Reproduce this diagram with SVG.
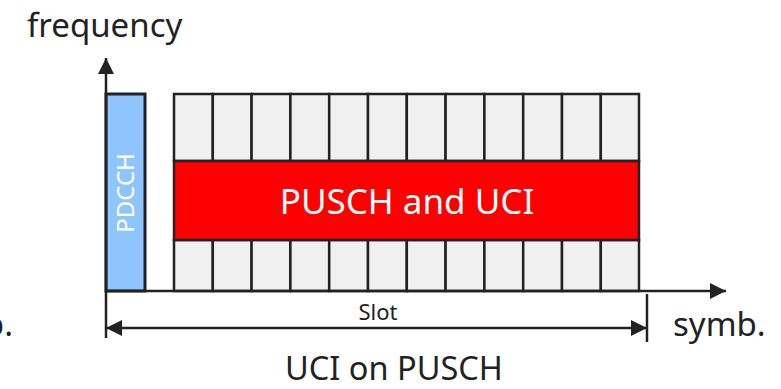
<svg xmlns="http://www.w3.org/2000/svg" width="781" height="389" viewBox="0 0 781 389">
  <style>
    .lbl { font-family: "Noto Sans", "Open Sans", sans-serif; fill: #222; }
    .cell { fill: #f0f0f0; stroke: #222; stroke-width: 2.5; }
    .ln { stroke: #222; stroke-width: 2.5; fill: none; }
  </style>
  <defs>
    <marker id="arr" viewBox="0 0 10 10" refX="10" refY="5" markerWidth="16" markerHeight="16" markerUnits="userSpaceOnUse" orient="auto-start-reverse">
      <path d="M0,0 L10,5 L0,10 z" fill="#222"/>
    </marker>
  </defs>

  <rect width="781" height="389" fill="#fff"/>

  <!-- axis labels -->
  <text class="lbl" x="27" y="37" font-size="33">frequency</text>
  <text class="lbl" x="13" y="336" font-size="33" text-anchor="end">symb.</text>
  <text class="lbl" x="673" y="336" font-size="33">symb.</text>
  <text class="lbl" x="394" y="379.5" font-size="32.5" text-anchor="middle">UCI on PUSCH</text>

  <!-- slot grid: top row -->
  <g id="upper-row">
    <rect class="cell" x="174" y="94" width="38.8" height="67"/>
    <rect class="cell" x="212.8" y="94" width="38.8" height="67"/>
    <rect class="cell" x="251.6" y="94" width="38.8" height="67"/>
    <rect class="cell" x="290.4" y="94" width="38.8" height="67"/>
    <rect class="cell" x="329.2" y="94" width="38.8" height="67"/>
    <rect class="cell" x="368" y="94" width="38.8" height="67"/>
    <rect class="cell" x="406.8" y="94" width="38.8" height="67"/>
    <rect class="cell" x="445.6" y="94" width="38.8" height="67"/>
    <rect class="cell" x="484.4" y="94" width="38.8" height="67"/>
    <rect class="cell" x="523.2" y="94" width="38.8" height="67"/>
    <rect class="cell" x="562" y="94" width="38.8" height="67"/>
    <rect class="cell" x="600.8" y="94" width="38.2" height="67"/>
  </g>

  <!-- slot grid: bottom row -->
  <g id="lower-row">
    <rect class="cell" x="174" y="240" width="38.8" height="51"/>
    <rect class="cell" x="212.8" y="240" width="38.8" height="51"/>
    <rect class="cell" x="251.6" y="240" width="38.8" height="51"/>
    <rect class="cell" x="290.4" y="240" width="38.8" height="51"/>
    <rect class="cell" x="329.2" y="240" width="38.8" height="51"/>
    <rect class="cell" x="368" y="240" width="38.8" height="51"/>
    <rect class="cell" x="406.8" y="240" width="38.8" height="51"/>
    <rect class="cell" x="445.6" y="240" width="38.8" height="51"/>
    <rect class="cell" x="484.4" y="240" width="38.8" height="51"/>
    <rect class="cell" x="523.2" y="240" width="38.8" height="51"/>
    <rect class="cell" x="562" y="240" width="38.8" height="51"/>
    <rect class="cell" x="600.8" y="240" width="38.2" height="51"/>
  </g>

  <!-- PUSCH and UCI block -->
  <g id="pusch">
    <rect x="174" y="161" width="465" height="79" fill="#ff0000" stroke="#222" stroke-width="2.5"/>
    <text class="lbl" x="407" y="214" font-size="35" text-anchor="middle" style="fill:#fff">PUSCH and UCI</text>
  </g>

  <!-- PDCCH block -->
  <g id="pdcch">
    <rect x="106" y="94" width="39" height="197" fill="#8ec5ff" stroke="#222" stroke-width="3"/>
    <text class="lbl" transform="translate(134,193) rotate(-90)" font-size="24" text-anchor="middle" style="fill:#fff">PDCCH</text>
  </g>

  <!-- axes and slot dimension -->
  <g id="connectors">
    <line class="ln" x1="106" y1="338" x2="106" y2="58" marker-end="url(#arr)"/>
    <line class="ln" x1="106" y1="291" x2="726" y2="291" marker-end="url(#arr)"/>
    <line class="ln" x1="647" y1="294" x2="647" y2="342"/>
    <line class="ln" x1="106" y1="328" x2="647" y2="328" marker-start="url(#arr)" marker-end="url(#arr)"/>
    <text class="lbl" x="378" y="320" font-size="22" text-anchor="middle">Slot</text>
  </g>
</svg>
